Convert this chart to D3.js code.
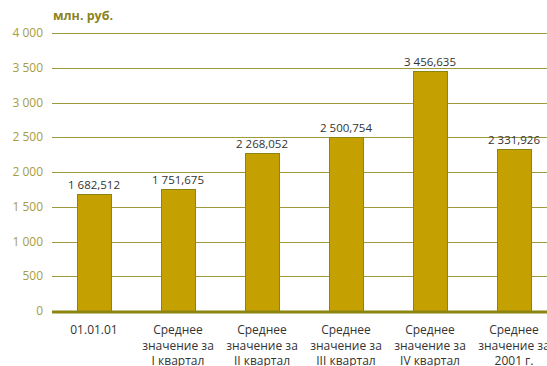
<!DOCTYPE html>
<html>
<head>
<meta charset="utf-8">
<script src="https://cdn.jsdelivr.net/npm/d3@7"></script>
<style>
  body { margin: 0; background: #fff; }
  text { font-family: "Open Sans", "DejaVu Sans", sans-serif; }
</style>
</head>
<body>
<div id="chart"></div>
<script>
var categories = [
    ['01.01.01'],
    ['Среднее', 'значение за', 'I квартал'],
    ['Среднее', 'значение за', 'II квартал'],
    ['Среднее', 'значение за', 'III квартал'],
    ['Среднее', 'значение за', 'IV квартал'],
    ['Среднее', 'значение за', '2001 г.']
];
var values = [1682.512, 1751.675, 2268.052, 2500.754, 3456.635, 2331.926];
var valueLabels = ['1 682,512', '1 751,675', '2 268,052', '2 500,754', '3 456,635', '2 331,926'];
var yTicks = [0, 500, 1000, 1500, 2000, 2500, 3000, 3500, 4000];
var yTickLabels = ['0', '500', '1 000', '1 500', '2 000', '2 500', '3 000', '3 500', '4 000'];

var width = 547, height = 366;
var plotLeft = 52, plotTop = 33, plotBottom = 311;

var svg = d3.select('#chart').append('svg')
    .attr('width', width)
    .attr('height', height);

var x = d3.scaleBand()
    .domain(d3.range(categories.length))
    .range([plotLeft, plotLeft + 84 * 6])
    .paddingInner(0.595)
    .paddingOuter(0.2975);

var y = d3.scaleLinear()
    .domain([0, 4000])
    .range([plotBottom, plotTop]);

// title
svg.append('text')
    .attr('x', 53)
    .attr('y', 20)
    .attr('font-size', 12.5)
    .attr('font-weight', 'bold')
    .attr('fill', '#8c8420')
    .text('млн. руб.');

// grid
svg.append('g').selectAll('line')
    .data(yTicks.slice(1))
    .enter().append('line')
    .attr('x1', plotLeft).attr('x2', width)
    .attr('y1', function (d) { return Math.round(y(d)) + 0.5; })
    .attr('y2', function (d) { return Math.round(y(d)) + 0.5; })
    .attr('stroke', '#a19a3a')
    .attr('stroke-width', 1);

// y tick labels
svg.append('g').selectAll('text')
    .data(yTicks)
    .enter().append('text')
    .attr('x', 43)
    .attr('y', function (d) { return y(d) + 4; })
    .attr('text-anchor', 'end')
    .attr('font-size', 12)
    .attr('fill', '#a89c40')
    .text(function (d, i) { return yTickLabels[i]; });

// bars
svg.append('g').selectAll('rect')
    .data(values)
    .enter().append('rect')
    .attr('x', function (d, i) { return Math.round(x(i)) + 0.5; })
    .attr('y', function (d) { return Math.round(y(d)) + 0.5; })
    .attr('width', x.bandwidth())
    .attr('height', function (d) { return plotBottom - Math.round(y(d)); })
    .attr('fill', '#c4a000')
    .attr('stroke', '#8c8410')
    .attr('stroke-width', 1);

// value labels
svg.append('g').selectAll('text')
    .data(values)
    .enter().append('text')
    .attr('x', function (d, i) { return x(i) + x.bandwidth() / 2; })
    .attr('y', function (d) { return y(d) - 5; })
    .attr('text-anchor', 'middle')
    .attr('font-size', 11.5)
    .attr('fill', '#333')
    .text(function (d, i) { return valueLabels[i]; });

// zero axis
svg.append('line')
    .attr('x1', plotLeft).attr('x2', width)
    .attr('y1', plotBottom + 1).attr('y2', plotBottom + 1)
    .attr('stroke', '#8c8410')
    .attr('stroke-width', 3);

// category labels
var cat = svg.append('g').selectAll('text')
    .data(categories)
    .enter().append('text')
    .attr('text-anchor', 'middle')
    .attr('font-size', 12)
    .attr('fill', '#333');

cat.selectAll('tspan')
    .data(function (d, i) { return d.map(function (t) { return { t: t, i: i }; }); })
    .enter().append('tspan')
    .attr('x', function (d) { return x(d.i) + x.bandwidth() / 2; })
    .attr('y', function (d, j) { return 334 + j * 15.5; })
    .text(function (d) { return d.t; });
</script>
</body>
</html>
